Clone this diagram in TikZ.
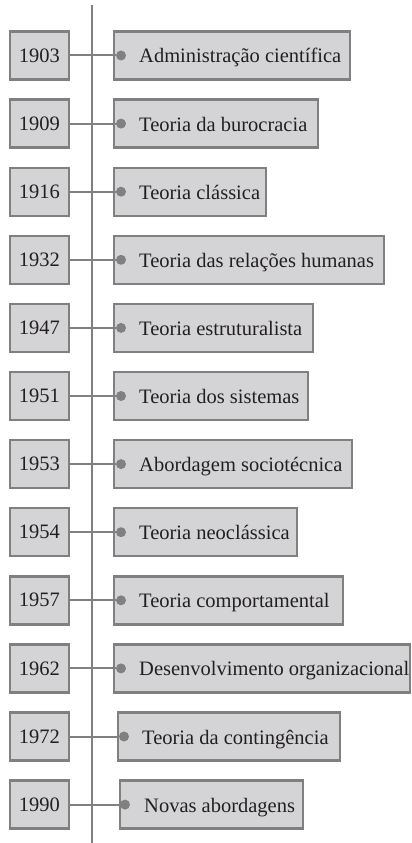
\documentclass[tikz,border=0pt]{standalone}
\usepackage{fontspec}
\setmainfont{Liberation Serif}
\usepackage{tikz}
\usetikzlibrary{positioning,calc}

\definecolor{boxgray}{HTML}{D4D4D6}
\definecolor{linegray}{HTML}{808080}
\definecolor{ink}{HTML}{231F20}

\begin{document}
\begin{tikzpicture}[x=1pt, y=-1pt,
  year/.style={draw=linegray, line width=2.4pt, fill=boxgray, minimum width=58.5pt, minimum height=48pt, inner sep=0pt, font=\fontsize{20.5}{24}\selectfont, text=ink},
  theory/.style={draw=linegray, line width=2.4pt, fill=boxgray, minimum width=#1, minimum height=48pt, inner sep=0pt, anchor=west},
  txt/.style={anchor=base west, inner sep=0pt, font=\fontsize{20.5}{24}\selectfont, text=ink},
  dot/.style={circle, fill=linegray, inner sep=0pt, minimum size=10pt},
  link/.style={draw=linegray, line width=2pt}]
\useasboundingbox (0,0) rectangle (412,843);

% time axis
\coordinate (top) at (92,5);
\coordinate (bottom) at (92,843);
\draw[link] (top) -- (bottom);

% years
\node[year] (y1903) at (39.5,55.5) {1903};
\node[year] (y1909) at (39.5,123.6) {1909};
\node[year] (y1916) at (39.5,191.7) {1916};
\node[year] (y1932) at (39.5,259.8) {1932};
\node[year] (y1947) at (39.5,327.9) {1947};
\node[year] (y1951) at (39.5,396) {1951};
\node[year] (y1953) at (39.5,464.1) {1953};
\node[year] (y1954) at (39.5,532.2) {1954};
\node[year] (y1957) at (39.5,600.3) {1957};
\node[year] (y1962) at (39.5,668.4) {1962};
\node[year] (y1972) at (39.5,736.5) {1972};
\node[year] (y1990) at (39.5,804.6) {1990};

% theories
\node[theory=235.6pt] (b1903) at (113,55.5) {};
\node[theory=203.6pt] (b1909) at (113,123.6) {};
\node[theory=151.6pt] (b1916) at (113,191.7) {};
\node[theory=269.6pt] (b1932) at (113,259.8) {};
\node[theory=198.6pt] (b1947) at (113,327.9) {};
\node[theory=193.6pt] (b1951) at (113,396) {};
\node[theory=237.6pt] (b1953) at (113,464.1) {};
\node[theory=182.6pt] (b1954) at (113,532.2) {};
\node[theory=228.6pt] (b1957) at (113,600.3) {};
\node[theory=296pt] (b1962) at (113,668.4) {};
\node[theory=221.6pt] (b1972) at (117,736.5) {};
\node[theory=182.6pt] (b1990) at (119,804.6) {};

\node[txt] (t1903) at ([xshift=26pt,yshift=-7.5pt]b1903.west) {Administração científica};
\node[txt] (t1909) at ([xshift=26pt,yshift=-7.5pt]b1909.west) {Teoria da burocracia};
\node[txt] (t1916) at ([xshift=26pt,yshift=-7.5pt]b1916.west) {Teoria clássica};
\node[txt] (t1932) at ([xshift=26pt,yshift=-7.5pt]b1932.west) {Teoria das relações humanas};
\node[txt] (t1947) at ([xshift=26pt,yshift=-7.5pt]b1947.west) {Teoria estruturalista};
\node[txt] (t1951) at ([xshift=26pt,yshift=-7.5pt]b1951.west) {Teoria dos sistemas};
\node[txt] (t1953) at ([xshift=26pt,yshift=-7.5pt]b1953.west) {Abordagem sociotécnica};
\node[txt] (t1954) at ([xshift=26pt,yshift=-7.5pt]b1954.west) {Teoria neoclássica};
\node[txt] (t1957) at ([xshift=26pt,yshift=-7.5pt]b1957.west) {Teoria comportamental};
\node[txt] (t1962) at ([xshift=26pt,yshift=-7.5pt]b1962.west) {Desenvolvimento organizacional};
\node[txt] (t1972) at ([xshift=25pt,yshift=-7.5pt]b1972.west) {Teoria da contingência};
\node[txt] (t1990) at ([xshift=25pt,yshift=-7.5pt]b1990.west) {Novas abordagens};

% dots
\node[dot] (d1903) at ([xshift=8pt]b1903.west) {};
\node[dot] (d1909) at ([xshift=8pt]b1909.west) {};
\node[dot] (d1916) at ([xshift=8pt]b1916.west) {};
\node[dot] (d1932) at ([xshift=8pt]b1932.west) {};
\node[dot] (d1947) at ([xshift=8pt]b1947.west) {};
\node[dot] (d1951) at ([xshift=8pt]b1951.west) {};
\node[dot] (d1953) at ([xshift=8pt]b1953.west) {};
\node[dot] (d1954) at ([xshift=8pt]b1954.west) {};
\node[dot] (d1957) at ([xshift=8pt]b1957.west) {};
\node[dot] (d1962) at ([xshift=8pt]b1962.west) {};
\node[dot] (d1972) at ([xshift=7pt]b1972.west) {};
\node[dot] (d1990) at ([xshift=6pt]b1990.west) {};

\path [link](y1903) -- (d1903);
\path [link](y1909) -- (d1909);
\path [link](y1916) -- (d1916);
\path [link](y1932) -- (d1932);
\path [link](y1947) -- (d1947);
\path [link](y1951) -- (d1951);
\path [link](y1953) -- (d1953);
\path [link](y1954) -- (d1954);
\path [link](y1957) -- (d1957);
\path [link](y1962) -- (d1962);
\path [link](y1972) -- (d1972);
\path [link](y1990) -- (d1990);
\end{tikzpicture}
\end{document}
